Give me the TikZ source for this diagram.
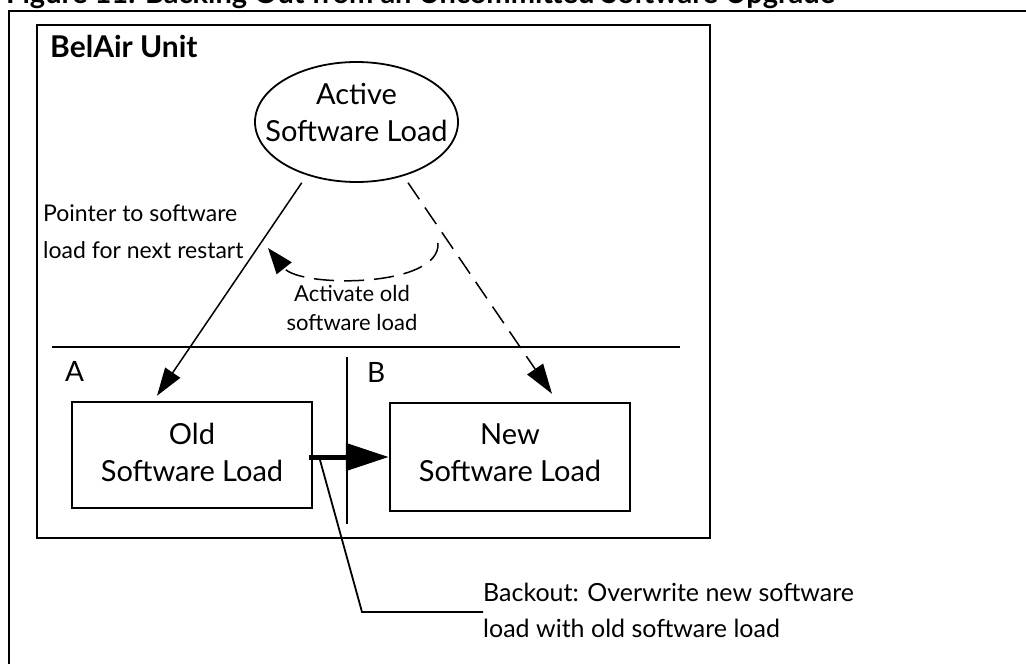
\documentclass[tikz,border=0pt]{standalone}
\usepackage{fontspec}
\setmainfont{Lato}
\usetikzlibrary{arrows.meta,shapes.geometric,calc}

\tikzset{
  frame/.style={line width=2.4pt},
  loadbox/.style={draw, line width=2.4pt, minimum width=240pt, inner sep=0pt,
    align=center, font=\fontsize{29}{37}\selectfont},
  plain/.style={inner sep=0pt, font=\fontsize{23}{37}\selectfont},
  ptr/.style={line width=1.5pt, -{Triangle[length=28pt,width=18pt]}},
  dptr/.style={line width=1.5pt, dash pattern=on 20pt off 10pt,
    -{Triangle[length=30pt,width=19pt]}},
  swap/.style={line width=5pt, -{Triangle[length=43pt,width=27pt]}},
  leader/.style={line width=1.8pt}
}

\begin{document}
\begin{tikzpicture}[x=1pt,y=-1pt]
\useasboundingbox (0,0) rectangle (1026,664);
\clip (0,0) rectangle (1026,664);

% caption above the frame (only its lower edge falls on the page)
\node[anchor=base west, inner sep=0pt, font=\bfseries\fontsize{29}{32}\selectfont]
  (title) at (6,3) {Figure 11: Backing Out from an Uncommitted Software Upgrade};

% figure frame
\draw[frame] (9,700) -- (9,11) -- (1100,11);

% unit enclosure
\node[draw, frame, anchor=north west, minimum width=673pt, minimum height=513pt,
  inner sep=0pt] (unit) at (36,24) {};
\node[anchor=base west, inner sep=0pt, font=\bfseries\fontsize{30}{34}\selectfont]
  (unitlbl) at (50,57) {BelAir Unit};

% active load pointer
\node[draw, ellipse, line width=1.8pt, minimum width=203pt, minimum height=120pt,
  inner sep=0pt] (active) at (356.5,122) {};
\node[align=center, inner sep=0pt, text depth=20pt, font=\fontsize{29}{37}\selectfont]
  (activetxt) at (active.center) {Active\\Software Load};

% partitions
\coordinate (hl) at (52,347);
\coordinate (hr) at (680,347);
\draw[frame] (hl) -- (hr);
\coordinate (vt) at (347,357);
\coordinate (vb) at (347,524);
\draw[frame] (vt) -- (vb);
\node[anchor=base west, inner sep=0pt, font=\fontsize{28}{32}\selectfont] (parta) at (65,381) {A};
\node[anchor=base west, inner sep=0pt, font=\fontsize{28}{32}\selectfont] (partb) at (367,382) {B};

% software loads
\node[loadbox, minimum height=106pt, text depth=6pt] (old) at (192,455) {Old\\Software Load};
\node[loadbox, minimum height=108pt, text depth=8pt] (new) at (510,457) {New\\Software Load};

% labels
\node[plain, anchor=north west, align=left] (ptrlbl) at (43,205)
  {Pointer to software\\load for next restart};
\node[plain, anchor=north, align=center, font=\fontsize{22}{29}\selectfont] (actlbl) at (352,285)
  {Activate old\\software load};
\node[plain, anchor=north west, align=left, font=\fontsize{25}{36}\selectfont] (backout) at (483,583)
  {Backout: Overwrite new software\\load with old software load};

% pointer to the old load (current restart target)
\coordinate (oldin) at ($(old.north)+(-35,-5)$);
\draw[ptr, shorten <=9pt] (active.227) -- (oldin);

% pointer to the new load (dashed)
\coordinate (newin) at ($(new.north)+(42,-8)$);
\draw[dptr, shorten <=8pt] (active.311) -- (newin);

% re-activate the old load
\coordinate (actfrom) at (438,243);
\coordinate (actto) at (268,248);
\draw[dptr, -{Triangle[length=26pt,width=19pt]}]
  (actfrom) .. controls (441,288) and (300,288) .. (actto);

% overwrite new with old
\coordinate (swapfrom) at ($(old.east |- new.west)+(-4,0)$);
\draw[swap] (swapfrom) -- (new.west);

% leader to the backout note
\coordinate (ldtop) at (320,460);
\coordinate (ldbend) at (362,612);
\draw[leader] (ldtop) -- (ldbend) -- (ldbend -| backout.west);
\end{tikzpicture}
\end{document}
